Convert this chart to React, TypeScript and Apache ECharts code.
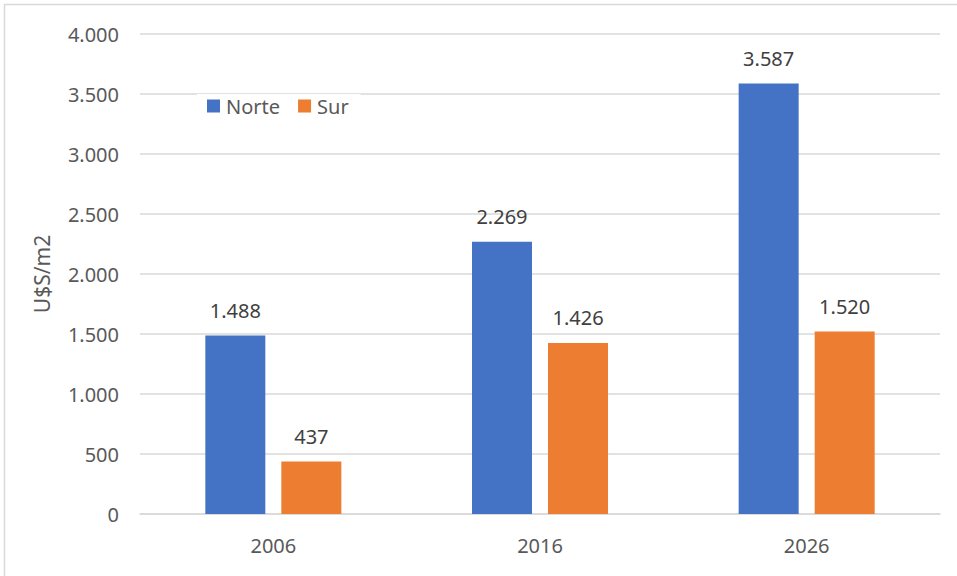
import React, { useEffect, useRef } from "react";
import * as echarts from "echarts";

const categories = ["2006", "2016", "2026"];
const norte = [1488, 2269, 3587];
const sur = [437, 1426, 1520];
const seriesNames = ["Norte", "Sur"];
const yAxisName = "U$S/m2";

const fmt = (v: number) => String(Math.round(v)).replace(/\B(?=(\d{3})+(?!\d))/g, ".");

export default function App() {
  const ref = useRef<HTMLDivElement>(null);
  useEffect(() => {
    const chart = echarts.init(ref.current!, null, { renderer: "svg" });
    const font = "Noto Sans";
    const fs = 20;
    chart.setOption({
      animation: false,
      backgroundColor: "#ffffff",
      textStyle: { fontFamily: font },
      graphic: [
        {
          type: "rect",
          shape: { x: 4.5, y: 4.5, width: 1000, height: 1000 },
          style: { fill: "none", stroke: "#d9d9d9", lineWidth: 1.5 },
          silent: true,
        },
      ],
      grid: { left: 140, right: 17, top: 34, bottom: 62 },
      legend: {
        data: seriesNames.map((n) => ({ name: n, icon: "rect" })),
        left: 197,
        top: 94,
        itemWidth: 13,
        itemHeight: 13,
        itemGap: 18,
        backgroundColor: "#ffffff",
        padding: [2, 12, 2, 10],
        textStyle: { fontFamily: font, fontSize: fs, color: "#595959", padding: [0, 0, 0, 1] },
      },
      xAxis: {
        type: "category",
        data: categories,
        axisTick: { show: false },
        axisLine: { lineStyle: { color: "#d9d9d9", width: 1.5 } },
        axisLabel: { fontFamily: font, fontSize: fs, color: "#595959", margin: 21 },
      },
      yAxis: {
        type: "value",
        min: 0,
        max: 4000,
        interval: 500,
        name: yAxisName,
        nameLocation: "middle",
        nameGap: 88,
        nameTextStyle: { fontFamily: font, fontSize: 21, color: "#595959" },
        axisLabel: { fontFamily: font, fontSize: fs, color: "#595959", margin: 21, formatter: (v: number) => fmt(v) },
        splitLine: { lineStyle: { color: "#d9d9d9", width: 1.5 } },
        axisLine: { show: false },
        axisTick: { show: false },
      },
      series: [
        {
          name: seriesNames[0],
          type: "bar",
          data: norte,
          barWidth: 60,
          barGap: "26.7%",
          itemStyle: { color: "#4472c4" },
          label: { show: true, position: "top", distance: 15, fontFamily: font, fontSize: fs, color: "#404040", formatter: (p: any) => fmt(p.value) },
        },
        {
          name: seriesNames[1],
          type: "bar",
          data: sur,
          barWidth: 60,
          itemStyle: { color: "#ed7d31" },
          label: { show: true, position: "top", distance: 15, fontFamily: font, fontSize: fs, color: "#404040", formatter: (p: any) => fmt(p.value) },
        },
      ],
    });
    return () => chart.dispose();
  }, []);
  return <div ref={ref} style={{ position: "absolute", left: 0, top: 0, width: 957, height: 576 }} />;
}
